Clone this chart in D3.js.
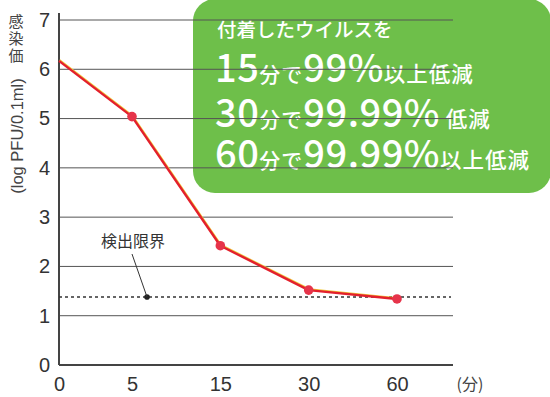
<!DOCTYPE html>
<html>
<head>
<meta charset="utf-8">
<script src="https://cdn.jsdelivr.net/npm/d3@7/dist/d3.min.js"></script>
<style>
  html, body { margin: 0; padding: 0; background: #fff; }
  svg { display: block; }
</style>
</head>
<body>
<svg id="chart" width="550" height="397"></svg>
<script>
// Virus titre over time (log PFU / 0.1 ml)
const timeLabels = ["0", "5", "15", "30", "60"];
const titreValues = [6.17, 5.04, 2.42, 1.52, 1.34];
const markerShown = [false, true, true, true, true];
const yTicks = [0, 1, 2, 3, 4, 5, 6, 7];
const detectionLimit = 1.38;
const detectionLabel = "検出限界";
const xUnitLabel = "(分)";
const yTitleLatin = "(log PFU/0.1ml)";
const yTitleKanji = ["感", "染", "価"];

// Call-out text lines: [text, size class]
const calloutHeader = "付着したウイルスを";
const calloutLines = [
  [["15", "big"], ["分で", "small"], ["99%", "big"], ["以上低減", "mid"]],
  [["30", "big"], ["分で", "small"], ["99.99%", "big"], [" 低減", "mid"]],
  [["60", "big"], ["分で", "small"], ["99.99%", "big"], ["以上低減", "mid"]]
];

const svg = d3.select("#chart");
const plotLeft = 59, plotRight = 453, plotTop = 20, plotBottom = 365;

// Time points are spaced by category; the first gap is shorter than the rest.
const x = d3.scaleLinear().domain([0, 1, 4]).range([plotLeft, 132, 397]);
const y = d3.scaleLinear().domain([0, 7]).range([plotBottom, plotTop]);

const latin = "'Liberation Sans', Arial, sans-serif";
const cjk = "'Noto Sans CJK JP', sans-serif";

// Call-out box
const box = svg.append("g");
box.append("rect")
  .attr("x", 193).attr("y", -1).attr("width", 358).attr("height", 194)
  .attr("rx", 22).attr("ry", 22)
  .attr("fill", "#6ebf4a");

box.append("text")
  .attr("x", 217).attr("y", 37)
  .attr("fill", "#fff")
  .attr("font-family", cjk).attr("font-weight", 500)
  .attr("font-size", 19.5)
  .text(calloutHeader);

const sizes = { big: 38, small: 21, mid: 21.5 };
const baselines = [82, 127, 168];
calloutLines.forEach((parts, i) => {
  const t = box.append("text")
    .attr("x", 215).attr("y", baselines[i])
    .attr("fill", "#fff")
    .attr("font-family", cjk).attr("font-weight", 500);
  t.selectAll("tspan").data(parts).join("tspan")
    .attr("font-size", d => sizes[d[1]])
    .attr("letter-spacing", d => d[1] === "big" ? 0.5 : 1)
    .text(d => d[0]);
});

// Horizontal gridlines
svg.append("g").selectAll("line").data(yTicks.filter(v => v > 0)).join("line")
  .attr("x1", plotLeft).attr("x2", plotRight)
  .attr("y1", d => y(d)).attr("y2", d => y(d))
  .attr("stroke", "#555").attr("stroke-width", 1);

// Axes
const yAxis = svg.append("g").attr("transform", `translate(${plotLeft},0)`)
  .call(d3.axisLeft(y).tickValues(yTicks).tickFormat(d3.format("d"))
    .tickSize(0).tickPadding(9));
yAxis.select(".domain").remove();
yAxis.append("line").attr("x1", 0).attr("x2", 0).attr("y1", 13).attr("y2", plotBottom)
  .attr("stroke", "#444").attr("stroke-width", 2);

const xAxis = svg.append("g").attr("transform", `translate(0,${plotBottom})`)
  .call(d3.axisBottom(x).tickValues(d3.range(timeLabels.length))
    .tickFormat(i => timeLabels[i]).tickSize(0).tickPadding(10));
xAxis.select(".domain").remove();
xAxis.append("line").attr("x1", plotLeft).attr("x2", plotRight).attr("y1", 0).attr("y2", 0)
  .attr("stroke", "#444").attr("stroke-width", 2);

svg.selectAll(".tick text")
  .attr("font-family", latin).attr("font-size", 20).attr("fill", "#333");
xAxis.selectAll(".tick text").attr("dy", "0.71em").attr("y", 12);

// Unit label for the time axis
svg.append("text")
  .attr("x", 470).attr("y", 390)
  .attr("text-anchor", "middle")
  .attr("font-family", cjk).attr("font-size", 16).attr("fill", "#444")
  .text(xUnitLabel);

// Y-axis title: rotated latin part and upright kanji stack
svg.append("text")
  .attr("transform", `translate(23,136) rotate(-90)`)
  .attr("text-anchor", "middle")
  .attr("font-family", latin).attr("font-size", 16.5).attr("fill", "#444")
  .text(yTitleLatin);
svg.append("g").selectAll("text").data(yTitleKanji).join("text")
  .attr("x", 16).attr("y", (d, i) => 27 + i * 17)
  .attr("text-anchor", "middle")
  .attr("font-family", cjk).attr("font-size", 15).attr("fill", "#444")
  .text(d => d);

// Detection limit (dotted)
svg.append("line")
  .attr("x1", plotLeft).attr("x2", 451)
  .attr("y1", y(detectionLimit)).attr("y2", y(detectionLimit))
  .attr("stroke", "#333").attr("stroke-width", 1.5)
  .attr("stroke-dasharray", "3,3");

const limitX = x(1.17);
svg.append("circle").attr("cx", limitX).attr("cy", y(detectionLimit)).attr("r", 2.8)
  .attr("fill", "#222");
svg.append("line")
  .attr("x1", 132).attr("y1", 254)
  .attr("x2", limitX).attr("y2", y(detectionLimit))
  .attr("stroke", "#333").attr("stroke-width", 1);
svg.append("text")
  .attr("x", 133).attr("y", 247)
  .attr("text-anchor", "middle")
  .attr("font-family", cjk).attr("font-size", 16).attr("fill", "#333")
  .text(detectionLabel);

// Titre line: thin yellow rim under the red stroke
const pts = titreValues.map((v, i) => [x(i), y(v)]);
const line = d3.line();
svg.append("path").attr("d", line(pts))
  .attr("transform", "translate(0.6,-1)")
  .attr("fill", "none").attr("stroke", "#f0c83a").attr("stroke-width", 1.6)
  .attr("stroke-linejoin", "round");
svg.append("path").attr("d", line(pts))
  .attr("fill", "none").attr("stroke", "#e3202c").attr("stroke-width", 2.4)
  .attr("stroke-linejoin", "round");

svg.append("g").selectAll("circle")
  .data(titreValues.map((v, i) => ({ v, i })).filter(d => markerShown[d.i]))
  .join("circle")
  .attr("cx", d => x(d.i)).attr("cy", d => y(d.v)).attr("r", 4.8)
  .attr("fill", "#e6344a");
</script>
</body>
</html>
